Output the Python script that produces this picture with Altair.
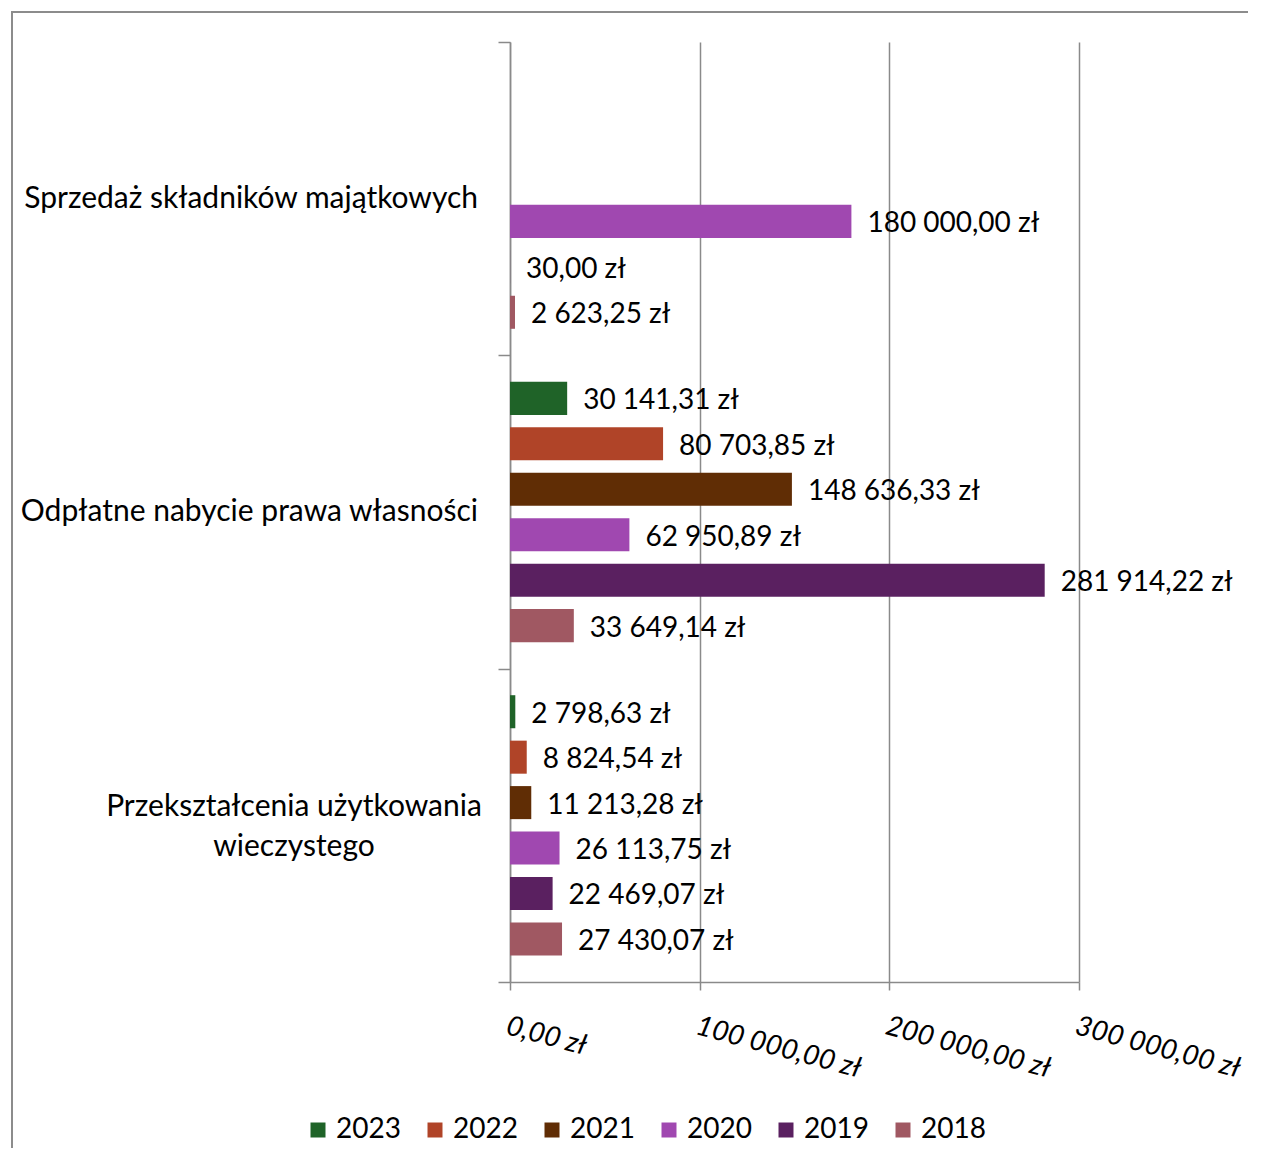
import altair as alt
import pandas as pd

categories = [
    "Sprzedaż składników majątkowych",
    "Odpłatne nabycie prawa własności",
    "Przekształcenia użytkowania wieczystego",
]
category_labels = [
    "Sprzedaż składników majątkowych",
    "Odpłatne nabycie prawa własności",
    "Przekształcenia użytkowania\nwieczystego",
]
years = ["2023", "2022", "2021", "2020", "2019", "2018"]
colors = ["#1F6328", "#B04428", "#602D05", "#A048B0", "#5A2060", "#A05862"]

sprzedaz = [None, None, None, 180000.00, 30.00, 2623.25]
odplatne = [30141.31, 80703.85, 148636.33, 62950.89, 281914.22, 33649.14]
przeksztalcenia = [2798.63, 8824.54, 11213.28, 26113.75, 22469.07, 27430.07]

tick_values = [0, 100000, 200000, 300000]
tick_labels = ["0,00 zł", "100 000,00 zł", "200 000,00 zł", "300 000,00 zł"]


def fmt(v):
    return f"{v:,.2f}".replace(",", " ").replace(".", ",") + " zł"


rows = []
for cat, vals in zip(categories, [sprzedaz, odplatne, przeksztalcenia]):
    for yr, v in zip(years, vals):
        if v is None:
            continue
        rows.append({"kategoria": cat, "rok": yr, "wartosc": v, "etykieta": fmt(v)})
df = pd.DataFrame(rows)

cat_df = pd.DataFrame({"kategoria": categories, "tekst": category_labels})

FONT = "Lato"
FS = 28
CAT_FS = 30
GRAY = "#8A8A8A"

label_expr = (
    "[" + ",".join(f"'{t}'" for t in tick_labels) + "]"
    + "[indexof([" + ",".join(str(v) for v in tick_values) + "], datum.value)]"
)

x_enc = alt.X(
    "wartosc:Q",
    scale=alt.Scale(domain=[0, 300000], nice=False),
    axis=alt.Axis(
        values=tick_values,
        labelExpr=label_expr,
        labelAngle=15,
        labelAlign="left",
        labelBaseline="top",
        labelFontStyle="italic",
        labelFont=FONT,
        labelFontSize=FS,
        labelColor="black",
        labelPadding=22,
        labelOverlap=False,
        labelFlush=False,
        tickSize=8,
        tickColor=GRAY,
        tickWidth=1.5,
        domainColor=GRAY,
        domainWidth=1.5,
        grid=True,
        gridColor=GRAY,
        gridWidth=1.5,
        title=None,
    ),
)
y_enc = alt.Y(
    "kategoria:N",
    sort=categories,
    scale=alt.Scale(paddingInner=0, paddingOuter=0),
    axis=alt.Axis(
        labels=False,
        title=None,
        tickBand="extent",
        tickSize=12,
        tickColor=GRAY,
        tickWidth=1.5,
        domainColor=GRAY,
        domainWidth=1.5,
        grid=False,
    ),
)
yoff = alt.YOffset(
    "rok:N", sort=years, scale=alt.Scale(paddingInner=0.273, paddingOuter=0.584)
)

frame = alt.Chart(pd.DataFrame({"a": [0]})).mark_rect(
    fillOpacity=0, stroke="#8C8C8C", strokeWidth=2
).encode(
    x=alt.value(-498), x2=alt.value(900), y=alt.value(-30), y2=alt.value(1300)
)

bars = alt.Chart(df).mark_bar().encode(
    x=x_enc,
    y=y_enc,
    yOffset=yoff,
    color=alt.Color(
        "rok:N",
        scale=alt.Scale(domain=years, range=colors),
        legend=alt.Legend(
            orient="none",
            legendX=-206,
            legendY=1074,
            direction="horizontal",
            columns=6,
            symbolType="square",
            symbolSize=225,
            symbolStrokeWidth=0,
            labelFont=FONT,
            labelFontSize=FS,
            labelColor="black",
            labelOffset=4,
            columnPadding=20,
            padding=0,
            title=None,
        ),
    ),
)

values_text = alt.Chart(df).mark_text(
    align="left", baseline="middle", dx=16, dy=3, font=FONT, fontSize=FS, color="black"
).encode(
    x="wartosc:Q",
    y=alt.Y("kategoria:N", sort=categories),
    yOffset=alt.YOffset("rok:N", sort=years),
    text="etykieta:N",
)

cat_text1 = alt.Chart(cat_df).transform_filter(
    alt.FieldOneOfPredicate(field="kategoria", oneOf=categories[:2])
).mark_text(
    align="right", baseline="middle", font=FONT, fontSize=CAT_FS, color="black"
).encode(
    x=alt.value(-32),
    y=alt.Y("kategoria:N", sort=categories),
    text="tekst:N",
)

cat_text2 = alt.Chart(cat_df).transform_filter(
    alt.FieldOneOfPredicate(field="kategoria", oneOf=categories[2:])
).mark_text(
    align="center", baseline="middle", font=FONT, fontSize=CAT_FS, color="black",
    lineBreak="\n", lineHeight=40, dy=-18,
).encode(
    x=alt.value(-216),
    y=alt.Y("kategoria:N", sort=categories),
    text="tekst:N",
)

chart = alt.layer(frame, bars, values_text, cat_text1, cat_text2).properties(
    width=569,
    height=940,
    autosize=alt.AutoSizeParams(type="none"),
    padding={"left": 502, "top": 34, "right": 169, "bottom": 166},
).configure_view(stroke=None)

chart.save("out.html", embed_options={"renderer": "svg", "actions": False})
